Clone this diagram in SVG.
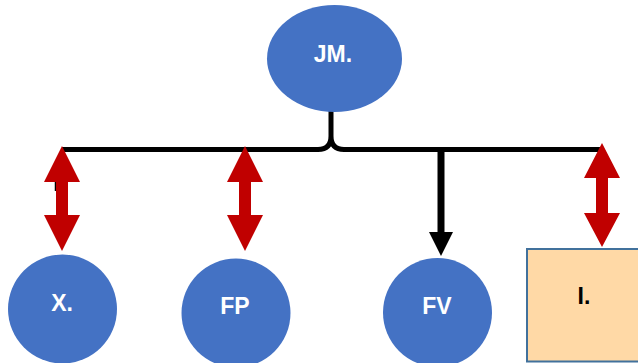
<svg xmlns="http://www.w3.org/2000/svg" width="638" height="363" viewBox="0 0 638 363">
<style>
.node{fill:#4472C4;}
.lbl{font-family:"Liberation Sans",Arial,sans-serif;font-weight:bold;font-size:23px;fill:#FFFFFF;text-anchor:middle;}
.dark{fill:#000000;}
.red{fill:#C00000;}
.blk{stroke:#000000;fill:none;}
</style>
<rect width="638" height="363" fill="#FFFFFF"/>
<g id="connectors">
<path class="blk" stroke-width="5" d="M62 149.5 H318 Q331 149.5 331 136 V108 M602 149.5 H344 Q331 149.5 331 136"/>
<line class="blk" stroke-width="2.5" x1="56" y1="176" x2="56" y2="191"/>
<line class="blk" stroke-width="7" x1="441" y1="150" x2="441" y2="234"/>
<polygon points="429,232 453,232 441,256" fill="#000000"/>
<polygon class="red" points="62,146 80,182 68,182 68,215 80,215 62,251 44,215 56,215 56,182 44,182"/>
<polygon class="red" points="245,146 263,182 251,182 251,215 263,215 245,251 227,215 239,215 239,182 227,182"/>
<polygon class="red" points="602,143 620,178 608,178 608,213 620,213 602,247 584,213 596,213 596,178 584,178"/>
</g>
<g id="node-JM">
<ellipse class="node" cx="334.5" cy="58.5" rx="67.5" ry="53.5"/>
<text class="lbl" x="333" y="62">JM.</text>
</g>
<g id="node-X">
<circle class="node" cx="62.5" cy="309" r="54.5"/>
<text class="lbl" x="62" y="311">X.</text>
</g>
<g id="node-FP">
<circle class="node" cx="236" cy="313" r="54.5"/>
<text class="lbl" x="235" y="314">FP</text>
</g>
<g id="node-FV">
<circle class="node" cx="437.5" cy="312.5" r="54.5"/>
<text class="lbl" x="437" y="314">FV</text>
</g>
<g id="node-I">
<rect x="527" y="249" width="120" height="112.5" fill="#FFD9A6" stroke="#41719C" stroke-width="2"/>
<text class="lbl dark" x="584" y="304">I.</text>
</g>
</svg>
